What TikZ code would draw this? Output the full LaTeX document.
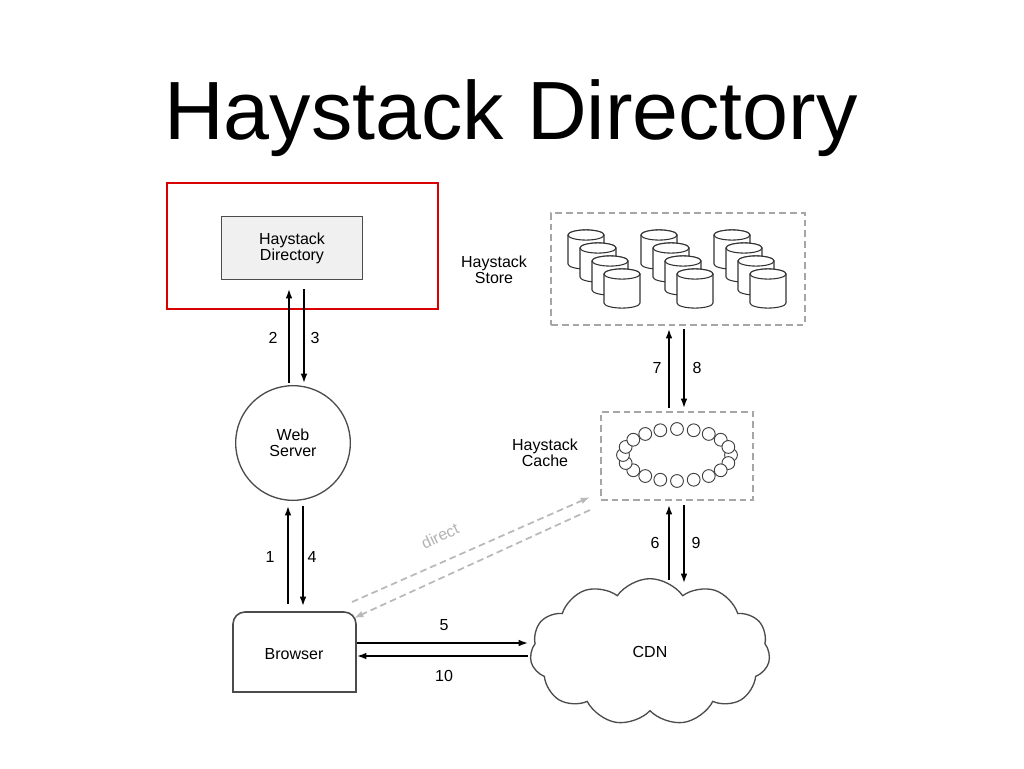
\documentclass[tikz,border=0pt]{standalone}
\usepackage{fontspec}
\setmainfont{Liberation Sans}
\usetikzlibrary{shapes.symbols,arrows.meta}
\begin{document}
\begin{tikzpicture}[x=0.75pt,y=-0.75pt,
 arr/.style={line width=1.2pt,-{Latex[length=7pt,width=5pt]}},
 lbl/.style={font=\fontsize{12}{12}\selectfont},
 dbox/.style={draw=gray!70,dashed,line width=1.6pt,dash pattern=on 5pt off 3pt},
 cyl/.style={draw=black!80,fill=white,line width=0.8pt},
 ring/.style={draw=black!75,fill=white,line width=0.7pt}]
\useasboundingbox (0,0) rectangle (1024,768);
\node[font=\fontsize{62}{62}\selectfont] (title) at (511,118) {Haystack Directory};
\draw[red!85!black,line width=1.5pt] (167,183) rectangle (438,309);
\node[draw=black!70,fill=black!6,line width=1pt,minimum width=106pt,minimum height=47pt,align=center,lbl] (dir) at (292,248) {Haystack\\Directory};
\node[draw=black!70,circle,line width=1pt,minimum size=86pt,align=center,lbl] (web) at (293,443) {Web\\Server};
\draw[draw=black!70,line width=1.2pt,fill=white] (233,692) -- (233,625) [rounded corners=9pt]-- (233,612) -- (356,612) [sharp corners]-- (356,692) -- cycle;
\node[lbl] (br) at (294,654) {Browser};
\node[cloud,cloud puffs=11,cloud puff arc=110,draw=black!70,line width=1pt,minimum width=180pt,minimum height=110pt,lbl] (cdn) at (650,652) {CDN};
\node[dbox,minimum width=114pt,minimum height=66pt] (cache) at (677,456) {};
\node[dbox,minimum width=190pt,minimum height=84pt] (store) at (678,269) {};
\node[lbl,align=center] (cachel) at (545,453) {Haystack\\Cache};
\node[lbl,align=center] (storel) at (494,270) {Haystack\\Store};
% ring
\foreach \a in {0,18,...,359} \draw[ring] ({677+54*cos(\a)},{455+26*sin(\a)}) circle (4.8pt);
% cylinders
\foreach \g in {0,73,146}{
 \foreach \i in {0,1,2,3}{
  \pgfmathsetmacro\X{568+\g+12*\i}\pgfmathsetmacro\Y{230+13*\i}
  \draw[cyl] (\X,\Y+5) -- (\X,\Y+34) arc[start angle=180,end angle=360,x radius=13.5pt,y radius=3.8pt] -- (\X+36,\Y+5) arc[start angle=0,end angle=180,x radius=13.5pt,y radius=3.8pt];
  \draw[cyl] (\X+18,\Y+5) ellipse[x radius=13.5pt,y radius=3.8pt];
 }}
% arrows
\draw[arr] (289,383) -- (289,289); \draw[arr] (304,289) -- (304,383);
\node[lbl] at (273,338) {2}; \node[lbl] at (315,338) {3};
\draw[arr] (288,604) -- (288,506); \draw[arr] (303,506) -- (303,606);
\node[lbl] at (270,557) {1}; \node[lbl] at (312,557) {4};
\draw[arr] (357,643) -- (528,643); \draw[arr] (528,656) -- (357,656);
\node[lbl] at (444,625) {5}; \node[lbl] at (444,676) {10};
\draw[arr] (669,580) -- (669,505); \draw[arr] (684,505) -- (684,583);
\node[lbl] at (655,543) {6}; \node[lbl] at (696,543) {9};
\draw[arr] (669,408) -- (669,329); \draw[arr] (684,329) -- (684,408);
\node[lbl] at (657,368) {7}; \node[lbl] at (697,368) {8};
\draw[gray!55,line width=1.3pt,dash pattern=on 5pt off 3pt,-{Latex[length=7pt,width=5pt]}] (352,602) -- (590,497);
\draw[gray!55,line width=1.3pt,dash pattern=on 5pt off 3pt,-{Latex[length=7pt,width=5pt]}] (590,510) -- (354,618);
\node[lbl,text=gray!60,rotate=25] at (440,536) {direct};
\end{tikzpicture}
\end{document}
